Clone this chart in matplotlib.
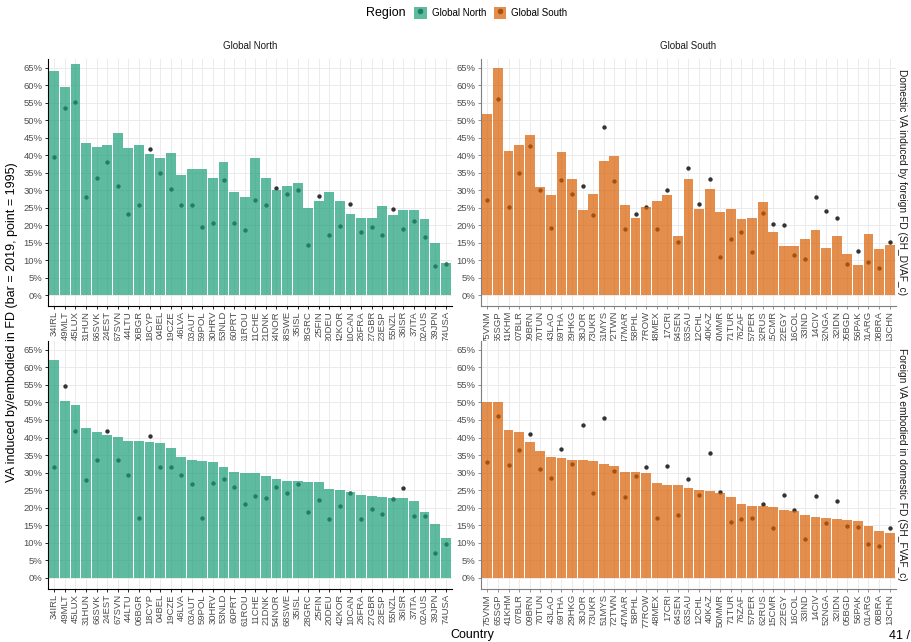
import matplotlib
matplotlib.use("Agg")
import matplotlib.pyplot as plt
import numpy as np
from matplotlib.lines import Line2D
from matplotlib.patches import Patch
from matplotlib.ticker import FuncFormatter, MultipleLocator

plt.rcParams["font.family"] = ["Liberation Sans", "DejaVu Sans"]

# ---------------------------------------------------------------------------
# Data: shares in percent (bar = 2019, point = 1995)
# ---------------------------------------------------------------------------
north_countries = ["34IRL", "49MLT", "45LUX", "31HUN", "66SVK", "24EST", "67SVN",
                   "44LTU", "06BGR", "18CYP", "04BEL", "19CZE", "46LVA", "03AUT",
                   "59POL", "30HRV", "53NLD", "60PRT", "61ROU", "11CHE", "21DNK",
                   "54NOR", "68SWE", "35ISL", "28GRC", "25FIN", "20DEU", "42KOR",
                   "10CAN", "26FRA", "27GBR", "23ESP", "55NZL", "36ISR", "37ITA",
                   "02AUS", "39JPN", "74USA"]
south_countries = ["75VNM", "65SGP", "41KHM", "07BLR", "09BRN", "70TUN", "43LAO",
                   "69THA", "29HKG", "38JOR", "73UKR", "51MYS", "72TWN", "47MAR",
                   "58PHL", "77ROW", "48MEX", "17CRI", "64SEN", "63SAU", "12CHL",
                   "40KAZ", "50MMR", "71TUR", "76ZAF", "57PER", "62RUS", "15CMR",
                   "22EGY", "16COL", "33IND", "14CIV", "52NGA", "32IDN", "05BGD",
                   "56PAK", "01ARG", "08BRA", "13CHN"]

# SH_DVAF_c
north_dvaf_2019 = [64.0, 59.6, 66.2, 43.6, 42.4, 43.0, 46.4, 42.1, 43.0, 40.4,
                   39.3, 40.7, 34.4, 36.1, 36.1, 33.5, 38.1, 29.5, 28.1, 39.3,
                   33.5, 30.1, 31.2, 32.1, 24.9, 26.9, 29.5, 26.9, 23.2, 22.1,
                   22.1, 25.5, 22.9, 24.4, 24.4, 21.8, 14.9, 9.2]
north_dvaf_1995 = [39.6, 53.4, 55.1, 28.0, 33.6, 38.0, 31.3, 23.3, 25.8, 41.8,
                   34.8, 30.3, 25.7, 25.8, 19.4, 20.7, 32.9, 20.5, 18.5, 27.2,
                   25.7, 30.6, 28.8, 30.1, 14.4, 28.2, 17.1, 19.7, 26.0, 18.0,
                   19.5, 17.3, 24.6, 19.0, 21.2, 16.7, 8.2, 8.8]
south_dvaf_2019 = [51.9, 65.0, 41.3, 43.0, 45.8, 30.9, 28.7, 41.0, 33.2, 24.4,
                   28.9, 38.4, 39.8, 25.8, 22.1, 25.2, 26.9, 28.7, 16.9, 33.2,
                   24.6, 30.4, 23.8, 24.6, 21.8, 22.1, 26.6, 18.1, 14.0, 14.0,
                   16.0, 18.6, 13.5, 16.9, 11.7, 8.6, 17.5, 13.2, 14.3]
south_dvaf_1995 = [27.2, 56.1, 25.2, 35.0, 42.6, 30.0, 19.1, 32.8, 28.8, 31.3,
                   23.0, 48.1, 32.5, 19.0, 23.1, 25.3, 19.0, 30.0, 15.3, 36.2,
                   26.0, 33.2, 10.9, 16.1, 18.1, 12.3, 23.4, 20.2, 20.1, 11.5,
                   10.2, 28.1, 24.0, 22.1, 8.9, 12.5, 9.5, 7.6, 15.3]

# SH_FVAF_c
north_fvaf_2019 = [62.0, 50.3, 49.3, 42.8, 41.6, 40.8, 40.2, 39.1, 39.1, 38.8,
                   38.5, 37.1, 34.5, 33.7, 33.4, 33.1, 31.7, 30.2, 29.9, 29.9,
                   29.1, 28.2, 27.7, 27.7, 27.4, 27.4, 25.4, 25.1, 24.5, 23.7,
                   23.4, 23.1, 22.9, 22.8, 22.0, 18.8, 15.4, 11.5]
north_fvaf_1995 = [31.5, 54.8, 42.0, 27.8, 33.7, 41.9, 33.5, 29.3, 17.0, 40.5,
                   31.7, 31.6, 29.3, 26.9, 17.2, 27.0, 28.2, 25.9, 21.1, 23.4,
                   22.7, 25.9, 24.3, 26.9, 18.7, 22.3, 16.7, 20.5, 24.1, 16.9,
                   19.7, 18.2, 22.6, 25.6, 17.7, 17.7, 7.1, 9.7]
south_fvaf_2019 = [50.2, 50.2, 42.2, 41.6, 38.8, 36.2, 34.5, 34.2, 33.7, 33.7,
                   33.4, 32.5, 31.9, 30.2, 30.2, 29.9, 27.1, 26.5, 26.5, 25.7,
                   25.1, 24.8, 24.2, 23.1, 21.1, 20.5, 20.5, 20.2, 19.4, 19.1,
                   18.0, 17.4, 17.1, 16.9, 16.5, 16.3, 14.8, 13.4, 12.8]
south_fvaf_1995 = [32.9, 46.2, 32.1, 36.4, 41.0, 31.0, 28.4, 36.6, 32.5, 43.6,
                   24.3, 45.6, 30.5, 23.1, 29.0, 31.6, 17.0, 32.0, 18.0, 28.2,
                   23.7, 35.7, 24.5, 16.0, 16.9, 17.1, 21.2, 14.2, 23.6, 19.5,
                   11.0, 23.4, 15.8, 21.8, 14.9, 14.4, 9.6, 9.0, 14.1]

regions = ["Global North", "Global South"]
region_colors = {"Global North": "#1b9e77", "Global South": "#d95f02"}
row_labels = ["Domestic VA induced by foreign FD (SH_DVAF_c)",
              "Foreign VA embodied in domestic FD (SH_FVAF_c)"]

panels = {
    (0, 0): (north_countries, north_dvaf_2019, north_dvaf_1995),
    (0, 1): (south_countries, south_dvaf_2019, south_dvaf_1995),
    (1, 0): (north_countries, north_fvaf_2019, north_fvaf_1995),
    (1, 1): (south_countries, south_fvaf_2019, south_fvaf_1995),
}

# ---------------------------------------------------------------------------
# Layout (pixel geometry of a 911 x 642 canvas)
# ---------------------------------------------------------------------------
W, H = 911, 642
fig = plt.figure(figsize=(W / 100, H / 100), dpi=100)

col_x = [(48, 452), (481, 896)]
row_y = [(59, 305.5), (341, 588.5)]

pct = FuncFormatter(lambda v, _: f"{v:.0f}%")

for (r, c), (countries, v2019, v1995) in panels.items():
    x0, x1 = col_x[c]
    y0, y1 = row_y[r]
    ax = fig.add_axes([x0 / W, 1 - y1 / H, (x1 - x0) / W, (y1 - y0) / H])
    color = region_colors[regions[c]]
    xs = np.arange(len(countries))

    # points first, bars drawn over them with transparency
    ax.scatter(xs, v1995, s=10, color="#333333", zorder=2, linewidths=0)
    ax.bar(xs, v2019, width=0.93, color=color, alpha=0.7, zorder=3,
           linewidth=0)

    ax.set_xlim(-0.6, len(countries) - 0.4)
    ax.set_ylim(-3.0, 67.5)
    ax.yaxis.set_major_locator(MultipleLocator(5))
    ax.yaxis.set_major_formatter(pct)
    ax.set_xticks(xs)
    ax.set_xticklabels(countries, rotation=90, fontsize=6.8, color="#4d4d4d")
    ax.tick_params(axis="y", labelsize=6.8, labelcolor="#4d4d4d", length=2.5,
                   width=0.6, pad=1.5)
    ax.tick_params(axis="x", length=2.5, width=0.6, pad=1.5)
    ax.grid(True, color="#ebebeb", linewidth=0.7, zorder=0)
    ax.set_axisbelow(True)
    for side in ["top", "right"]:
        ax.spines[side].set_visible(False)
    line_col = "#000000" if c == 0 else "#7f7f7f"
    for side in ["left", "bottom"]:
        ax.spines[side].set_color(line_col)
        ax.spines[side].set_linewidth(0.8)
    ax.tick_params(colors=line_col, which="both")
    ax.tick_params(labelcolor="#4d4d4d")

    if r == 0:
        ax.set_title(regions[c], fontsize=7, color="#1a1a1a", pad=7)
    if c == 1:
        fig.text(902 / W, 1 - (y0 + y1) / 2 / H, row_labels[r], rotation=270,
                 fontsize=7.3, color="#1a1a1a", ha="center", va="center")

# axis titles
fig.text(12 / W, 1 - 322 / H,
         "VA induced by/embodied in FD (bar = 2019, point = 1995)",
         rotation=90, fontsize=9, ha="center", va="center")
fig.text(472 / W, 1 - 635 / H, "Country", fontsize=9, ha="center", va="center")
fig.text(889 / W, 1 - 630 / H, "41 /", fontsize=9, ha="left", va="top")

# legend across the top
fig.text(366 / W, 1 - 13 / H, "Region", fontsize=9, ha="left", va="center")
handles = [(Line2D([], [], marker="o", ls="", color="#333333", markersize=3),
            Patch(facecolor=region_colors[g], alpha=0.7, linewidth=0))
           for g in regions]
fig.legend(handles, regions, loc="center left",
           bbox_to_anchor=(414 / W, 1 - 13 / H), ncol=2, frameon=False,
           fontsize=7, handlelength=1.3, handleheight=1.6, handletextpad=0.5,
           columnspacing=0.8, borderaxespad=0, borderpad=0)

fig.savefig("out.png", dpi=100)
